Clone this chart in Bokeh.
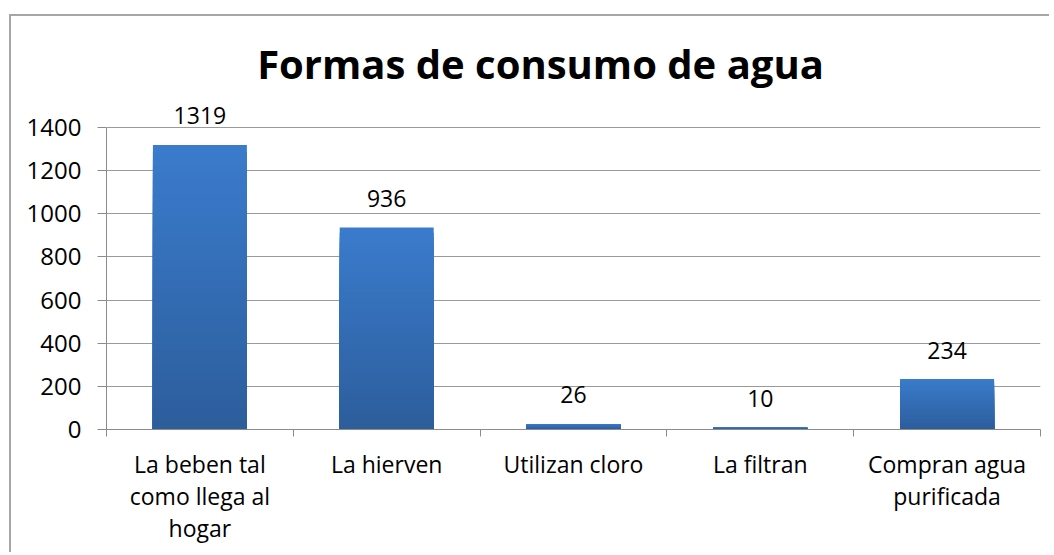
from bokeh.plotting import figure
from bokeh.models import Range1d, FixedTicker, ColumnDataSource
from bokeh.core.properties import value
from bokeh.embed import file_html
from bokeh.resources import INLINE

categories = ["La beben tal\ncomo llega al\nhogar", "La hierven", "Utilizan cloro",
              "La filtran", "Compran agua\npurificada"]
counts = [1319, 936, 26, 10, 234]
y_ticks = [0, 200, 400, 600, 800, 1000, 1200, 1400]
title_text = "Formas de consumo de agua"

FONT = "Open Sans"
top_rgb = (0x3b, 0x7c, 0xcd)
bot_rgb = (0x2d, 0x5e, 0x9c)

# frame extends above the 1400 line so labels/title above the grid are not clipped
Y_MAX = 1400 * 393 / 302

p = figure(width=1040, height=538, output_backend="svg", toolbar_location=None,
           x_range=Range1d(0, 5), y_range=Range1d(0, Y_MAX),
           min_border_left=95, min_border_top=20, min_border_right=11, min_border_bottom=125,
           margin=(14, 0, 0, 9),
           styles={"border-left": "2px solid #a6a6a6", "border-top": "2px solid #a6a6a6"})
p.outline_line_color = None
p.background_fill_color = "white"
p.border_fill_color = "white"

xs = [i + 0.5 for i in range(len(categories))]

# gradient bars: nested bars, each shorter one drawn darker on top of the previous
N = 40
sx, st, sc = [], [], []
for k in range(N, 0, -1):
    f = (k - 0.5) / N
    r = int(bot_rgb[0] + (top_rgb[0] - bot_rgb[0]) * f)
    g = int(bot_rgb[1] + (top_rgb[1] - bot_rgb[1]) * f)
    b = int(bot_rgb[2] + (top_rgb[2] - bot_rgb[2]) * f)
    for x, v in zip(xs, counts):
        sx.append(x)
        st.append(v * k / N)
        sc.append("#%02x%02x%02x" % (r, g, b))
src = ColumnDataSource(dict(x=sx, top=st, color=sc))
p.vbar(x="x", bottom=0, top="top", width=0.503, fill_color="color",
       line_color=None, source=src)

lab = ColumnDataSource(dict(x=xs, y=counts, t=[str(c) for c in counts]))
p.text(x="x", y="y", text="t", source=lab, text_align="center", text_baseline="alphabetic",
       y_offset=-29, text_font=value(FONT), text_font_size="23px", text_color="black")

# title as text inside the extended frame
p.text(x=[2.5], y=[1400], text=[title_text], text_align="center", text_baseline="alphabetic",
       x_offset=-33, y_offset=-64, text_font=value(FONT), text_font_size="40px",
       text_font_style="bold", text_color="black")

# axes
p.xgrid.visible = False
p.ygrid.ticker = FixedTicker(ticks=y_ticks)
p.ygrid.grid_line_color = "#9a9a9a"
p.ygrid.grid_line_width = 1

ya = p.yaxis[0]
ya.ticker = FixedTicker(ticks=y_ticks)
ya.bounds = (0, 1400)
ya.axis_line_color = "#8c8c8c"
ya.major_tick_line_color = "#8c8c8c"
ya.major_tick_out = 9
ya.major_tick_in = 0
ya.minor_tick_line_color = None
ya.major_label_standoff = 16
ya.major_label_text_font = FONT
ya.major_label_text_font_size = "24px"
ya.major_label_text_color = "black"

xa = p.xaxis[0]
xa.ticker = FixedTicker(ticks=xs, minor_ticks=[0, 1, 2, 3, 4, 5])
xa.major_label_overrides = {x: c for x, c in zip(xs, categories)}
xa.axis_line_color = "#8c8c8c"
xa.major_tick_line_color = None
xa.major_tick_out = 0
xa.major_tick_in = 0
xa.minor_tick_line_color = "#8c8c8c"
xa.minor_tick_out = 7
xa.minor_tick_in = 0
xa.major_label_standoff = 11
xa.major_label_text_font = FONT
xa.major_label_text_font_size = "23px"
xa.major_label_text_color = "black"
xa.major_label_text_line_height = 1.0
xa.major_label_text_align = "center"

open("out.html", "w").write(file_html(p, INLINE))
